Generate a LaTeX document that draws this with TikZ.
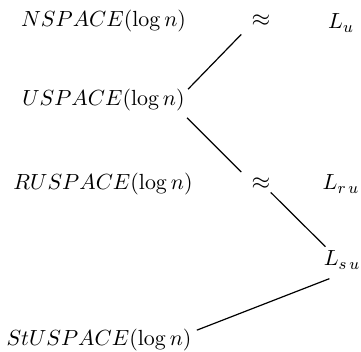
\documentclass[tikz,border=0pt]{standalone}
\begin{document}
\begin{tikzpicture}[x=0.5pt,y=-0.5pt,
  lbl/.style={inner sep=1pt,anchor=base,font=\fontsize{11}{14}\selectfont},
  apx/.style={lbl,font=\fontsize{13}{15}\selectfont},
  conn/.style={line width=0.6pt}]
\useasboundingbox (0,0) rectangle (361,352);
\node[lbl] (nsp) at (103.5,27) {$NSPACE(\log n)$};
\node[apx] (ap1) at (261,27) {$\approx$};
\node[lbl] (lu) at (341,29) {$L_{u}$};
\node[lbl] (usp) at (103.5,106) {$USPACE(\log n)$};
\node[lbl] (rusp) at (103,190) {$RUSPACE(\log n)$};
\node[apx] (ap2) at (261,190) {$\approx$};
\node[lbl] (lru) at (341,190) {$L_{r\,u}$};
\node[lbl] (lsu) at (342,266) {$L_{s\,u}$};
\node[lbl] (stusp) at (99,346) {$StUSPACE(\log n)$};
\draw[conn] ([shift={(1,2)}]usp.north east) -- ([shift={(-8,5)}]ap1.south west);
\draw[conn] ([shift={(0,4)}]usp.south east) -- ([shift={(-8,-4)}]ap2.north west);
\draw[conn] ([shift={(-2,0)}]ap2.south east) -- ([shift={(4,-2)}]lsu.north west);
\draw[conn] ([shift={(8,7)}]lsu.south west) -- ([shift={(3,3)}]stusp.north east);
\end{tikzpicture}
\end{document}
